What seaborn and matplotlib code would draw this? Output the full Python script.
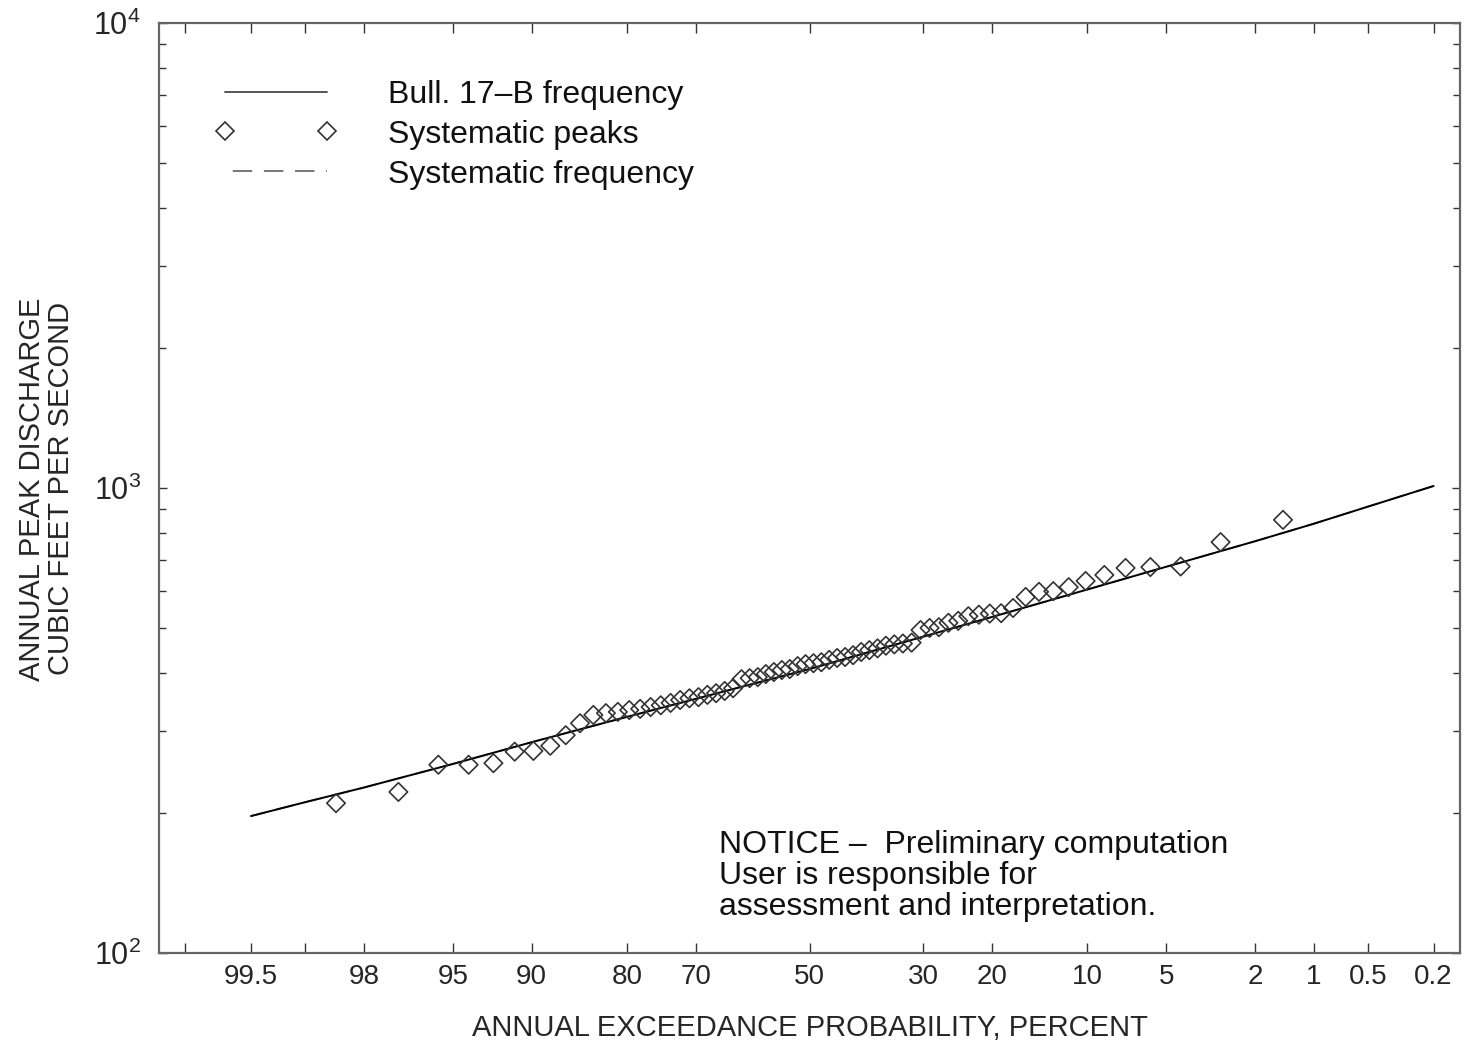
import numpy as np
import pandas as pd
import matplotlib
matplotlib.use("Agg")
import matplotlib.pyplot as plt
import seaborn as sns
from matplotlib.lines import Line2D
from matplotlib.ticker import LogLocator, NullFormatter, NullLocator
from statistics import NormalDist

# Bulletin 17-B frequency curve
curve_exceedance = [99.5, 99, 98, 95, 90, 80, 70, 60, 50, 40, 30, 20, 10, 5, 2, 1, 0.5, 0.2]
curve_discharge = [197, 211, 227, 255, 284, 322, 352, 380, 408, 441, 479, 528, 605, 677, 768, 838, 912, 1010]

# systematic annual peaks, cfs, ascending
peak_discharge = [210, 222, 254, 254, 256, 271, 272, 279, 294, 312,
                  325, 328, 330, 333, 335, 338, 341, 345, 350, 353,
                  355, 359, 362, 366, 371, 388, 390, 392, 398, 402,
                  406, 408, 414, 418, 420, 422, 427, 431, 433, 437,
                  444, 448, 452, 458, 461, 463, 465, 495, 500, 502,
                  513, 518, 530, 534, 537, 538, 552, 583, 598, 600,
                  612, 631, 650, 673, 676, 678, 765, 854]

prob_ticks = [99.8, 99.5, 99, 98, 95, 90, 80, 70, 50, 30, 20, 10, 5, 2, 1, 0.5, 0.2]
prob_labels = ["", "99.5", "", "98", "95", "90", "80", "70", "50", "30",
               "20", "10", "5", "2", "1", "0.5", "0.2"]

legend_labels = ["Bull. 17\u2013B frequency", "Systematic peaks", "Systematic frequency"]
notice = "NOTICE \u2013  Preliminary computation\nUser is responsible for\nassessment and interpretation."

nd = NormalDist()
_inv = np.vectorize(nd.inv_cdf, otypes=[float])
_cdf = np.vectorize(nd.cdf, otypes=[float])


def prob_forward(p):
    p = np.clip(np.asarray(p, dtype=float), 1e-6, 100 - 1e-6)
    return _inv(p / 100.0)


def prob_inverse(z):
    return 100.0 * _cdf(np.asarray(z, dtype=float))


# Weibull plotting positions for the ranked peaks
n = len(peak_discharge)
peaks = pd.DataFrame({
    "discharge": peak_discharge,
    "exceedance": 100.0 * np.arange(n, 0, -1) / (n + 1),
})
curve = pd.DataFrame({"exceedance": curve_exceedance, "discharge": curve_discharge})

sns.set_style("ticks")
plt.rcParams["font.family"] = ["Liberation Sans", "DejaVu Sans"]
plt.rcParams["mathtext.default"] = "regular"
plt.rcParams["text.color"] = "#111111"

fig = plt.figure(figsize=(14.66, 10.47), dpi=100)
ax = fig.add_axes([159 / 1466, 1 - 953 / 1047, 1301 / 1466, 930 / 1047])

ax.set_xscale("function", functions=(prob_forward, prob_inverse))
ax.set_yscale("log")

sns.lineplot(data=curve, x="exceedance", y="discharge", ax=ax, color="#777777",
             lw=1.3, linestyle=(0, (10, 6)), zorder=2)
sns.lineplot(data=curve, x="exceedance", y="discharge", ax=ax, color="black",
             lw=1.4, zorder=3)
sns.scatterplot(data=peaks, x="exceedance", y="discharge", ax=ax, marker="D",
                s=88, facecolor="none", edgecolor="#333333", linewidth=1.2, zorder=4)

ax.set_xlim(100 * nd.cdf(3), 100 * nd.cdf(-3))
ax.set_ylim(100, 10000)
ax.set_xticks(prob_ticks)
ax.set_xticklabels(prob_labels)
ax.xaxis.set_minor_locator(NullLocator())
ax.yaxis.set_major_locator(LogLocator(base=10))
ax.yaxis.set_minor_locator(LogLocator(base=10, subs=range(2, 10)))
ax.yaxis.set_minor_formatter(NullFormatter())

ax.tick_params(which="both", direction="in", top=True, right=True, color="#333333")
ax.tick_params(axis="x", length=7, width=1.0, pad=8, labelsize=20)
ax.tick_params(axis="y", which="major", length=6, width=1.0, pad=13, labelsize=22)
ax.tick_params(axis="y", which="minor", length=5, width=1.0)
for sp in ax.spines.values():
    sp.set_color("#666666")
    sp.set_linewidth(1.6)

ax.set_xlabel("ANNUAL EXCEEDANCE PROBABILITY, PERCENT", fontsize=21)
ax.xaxis.set_label_coords(0.5, -0.066)
ax.set_ylabel("ANNUAL PEAK DISCHARGE\nCUBIC FEET PER SECOND", fontsize=21,
              rotation=90, ha="center", va="center", rotation_mode="default",
              linespacing=1.05)
ax.yaxis.set_label_coords(-0.0868, 0.499)

handles = [
    Line2D([], [], color="#555555", lw=1.4),
    Line2D([], [], ls="none", marker="D", ms=9.4, mfc="none", mec="#333333", mew=1.2),
    Line2D([], [], color="#777777", lw=1.4, ls=(12, (10, 6))),
]
ax.legend(handles, legend_labels, loc="upper left", bbox_to_anchor=(0.0434, 0.939),
          frameon=False, numpoints=2, handlelength=3.8, handletextpad=1.6,
          labelspacing=0.31, borderpad=0, borderaxespad=0, fontsize=23)

ax.text(0.4304, 0.132, notice, transform=ax.transAxes, ha="left", va="top",
        fontsize=23, linespacing=1.04)

plt.savefig("out.png", dpi=100)
